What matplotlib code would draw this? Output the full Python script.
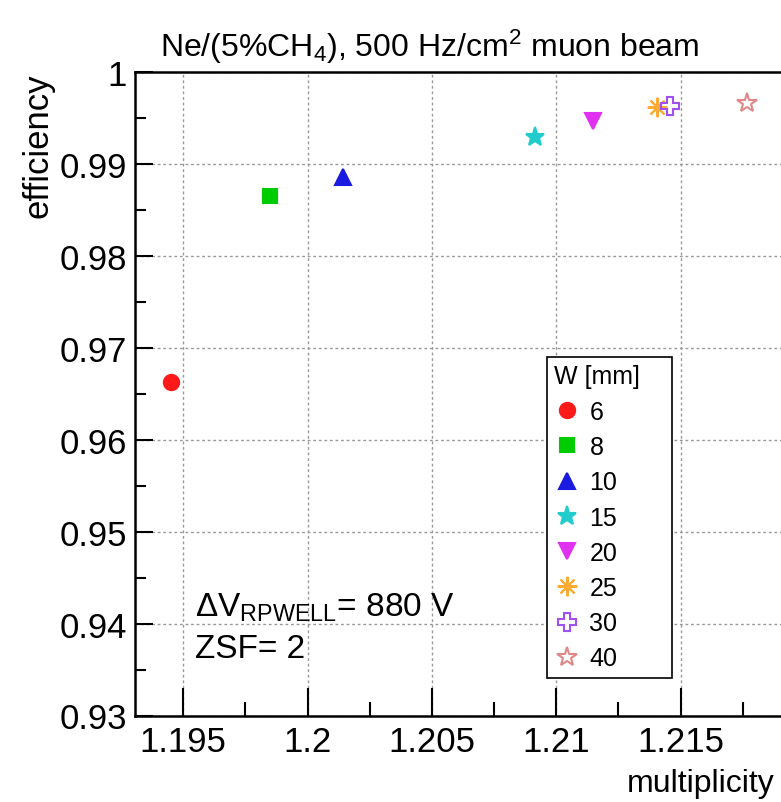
import matplotlib
matplotlib.use("Agg")
from matplotlib import pyplot as plt

plt.rcParams['font.family'] = ['Liberation Sans', 'DejaVu Sans']
plt.rcParams['mathtext.fontset'] = 'custom'
plt.rcParams['mathtext.rm'] = 'Liberation Sans'
plt.rcParams['mathtext.it'] = 'Liberation Sans:italic'

# data
widths = ["6", "8", "10", "15", "20", "25", "30", "40"]
multiplicity = [1.19452, 1.19847, 1.20141, 1.20915, 1.21148, 1.21406, 1.21456, 1.21766]
efficiency = [0.96628, 0.98656, 0.98855, 0.99290, 0.99462, 0.99616, 0.99630, 0.99663]

colors = ["#ff1a1a", "#00cc00", "#1a1ae0", "#22cccc", "#e030f0", "#ffaa33", "#a050f0", "#e08888"]
markers = ["o", "s", "^", "*", "v", (8, 2, 0), "P", "*"]
filled = [True, True, True, True, True, True, False, False]
sizes = [11, 10, 11, 14, 11, 14, 13, 15]

xticks = [1.195, 1.2, 1.205, 1.21, 1.215]
xticks_txt = ["1.195", "1.2", "1.205", "1.21", "1.215"]
yticks = [0.93, 0.94, 0.95, 0.96, 0.97, 0.98, 0.99, 1.0]
yticks_txt = ["0.93", "0.94", "0.95", "0.96", "0.97", "0.98", "0.99", "1"]

fig = plt.figure(figsize=(7.81, 8.03), dpi=100)
ax = fig.add_axes([135/781, 1 - 716.5/803, 670/781, 643.5/803])

for i in range(len(widths)):
    if filled[i]:
        ax.plot(multiplicity[i], efficiency[i], linestyle="none", marker=markers[i],
                color=colors[i], markersize=sizes[i], markeredgewidth=1.5, label=widths[i])
    else:
        ax.plot(multiplicity[i], efficiency[i], linestyle="none", marker=markers[i],
                markerfacecolor="none", markeredgecolor=colors[i], markersize=sizes[i],
                markeredgewidth=1.5, label=widths[i])

ax.set_xlim(1.19306, 1.22)
ax.set_ylim(0.93, 1.0)
ax.set_xticks(xticks, xticks_txt)
ax.set_yticks(yticks, yticks_txt)
ax.set_xticks([1.1975, 1.2025, 1.2075, 1.2125, 1.2175], minor=True)
ax.set_yticks([0.935, 0.945, 0.955, 0.965, 0.975, 0.985, 0.995], minor=True)
ax.tick_params(axis="x", which="major", direction="in", length=20, width=1.5, labelsize=25, pad=7)
ax.tick_params(axis="x", which="minor", direction="in", length=10, width=1.5)
ax.tick_params(axis="y", which="major", direction="in", length=13, width=1.5, labelsize=25, pad=6)
ax.tick_params(axis="y", which="minor", direction="in", length=8, width=1.5)
ax.grid(True, which="major", color="#999999", linestyle=(0, (2, 2)), linewidth=1)

for s in ["left", "bottom", "top"]:
    ax.spines[s].set_linewidth(1.8)
ax.spines["right"].set_visible(False)

leg = ax.legend(title="W [mm]", loc="upper left",
                bbox_to_anchor=(547/781, 1 - 667/803, 125/781, 309/803), mode="expand",
                bbox_transform=fig.transFigure, fontsize=18, title_fontsize=18,
                fancybox=False, edgecolor="black", framealpha=1, borderaxespad=0,
                handlelength=1.0, handletextpad=0.4, labelspacing=0.45, borderpad=0.3,
                alignment="left")
leg.get_frame().set_linewidth(1.2)

fig.text(430/781, 1 - 47/803, r"Ne/(5%CH$_{\mathrm{4}}$), 500 Hz/cm$^{\mathrm{2}}$ muon beam",
         fontsize=23, ha="center", va="center")
fig.text(775/781, 1 - 784/803, "multiplicity", fontsize=23, ha="right", va="center")
fig.text(38/781, 1 - 73/803, "efficiency", fontsize=25, rotation=90, ha="center", va="top")
fig.text(195/781, 1 - 608/803, r"ΔV$_{\mathrm{RPWELL}}$= 880 V", fontsize=24, ha="left", va="center")
fig.text(195/781, 1 - 650/803, "ZSF= 2", fontsize=24, ha="left", va="center")

plt.savefig("out.png", dpi=100)
